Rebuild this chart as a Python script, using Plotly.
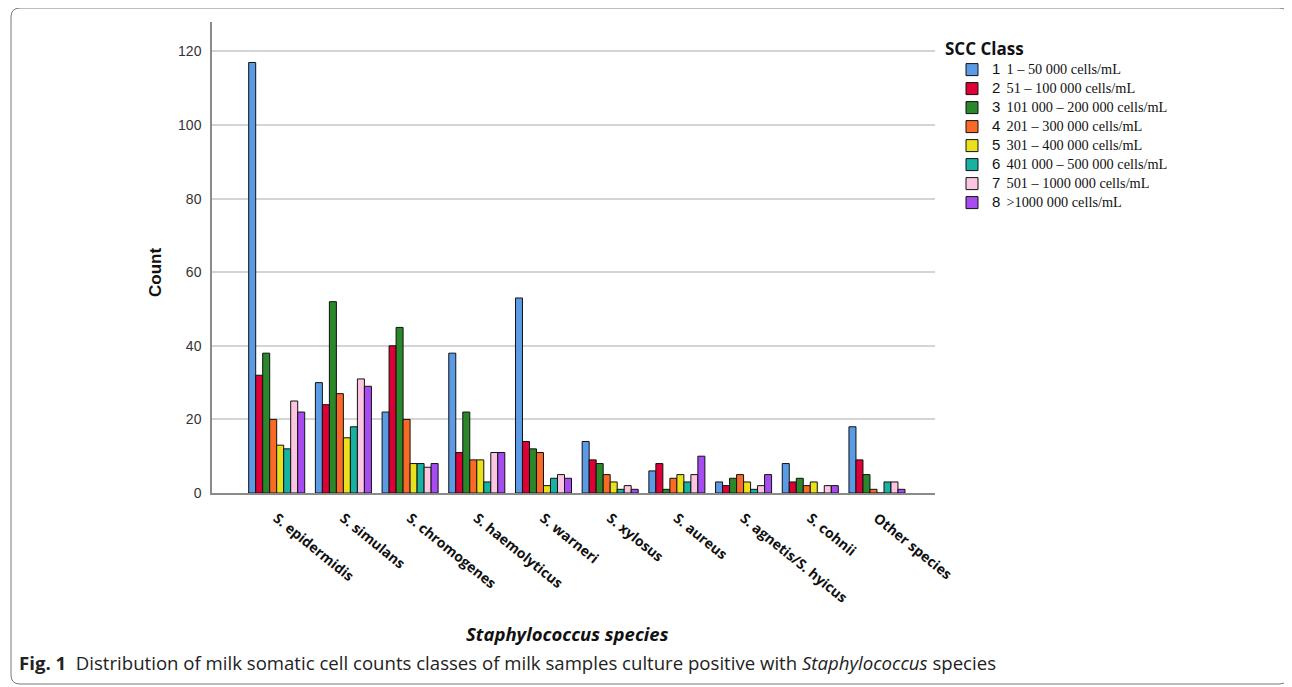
import plotly.graph_objects as go

species = ["S. epidermidis", "S. simulans", "S. chromogenes", "S. haemolyticus", "S. warneri",
           "S. xylosus", "S. aureus", "S. agnetis/S. hyicus", "S. cohnii", "Other species"]

class_ids = ["1", "2", "3", "4", "5", "6", "7", "8"]
class_labels = ["1 – 50 000 cells/mL", "51 – 100 000 cells/mL", "101 000 – 200 000 cells/mL",
                "201 – 300 000 cells/mL", "301 – 400 000 cells/mL", "401 000 – 500 000 cells/mL",
                "501 – 1000 000 cells/mL", ">1000 000 cells/mL"]

class1 = [117, 30, 22, 38, 53, 14, 6, 3, 8, 18]
class2 = [32, 24, 40, 11, 14, 9, 8, 2, 3, 9]
class3 = [38, 52, 45, 22, 12, 8, 1, 4, 4, 5]
class4 = [20, 27, 20, 9, 11, 5, 4, 5, 2, 1]
class5 = [13, 15, 8, 9, 2, 3, 5, 3, 3, 0]
class6 = [12, 18, 8, 3, 4, 1, 3, 1, 0, 3]
class7 = [25, 31, 7, 11, 5, 2, 5, 2, 2, 3]
class8 = [22, 29, 8, 11, 4, 1, 10, 5, 2, 1]

colors = ["#5b9be6", "#dc0036", "#2a872a", "#f86a26", "#ebe01c", "#17b2a2", "#fcc6e2", "#a64cf0"]

series = [class1, class2, class3, class4, class5, class6, class7, class8]

# page offset (default body margin of the html page)
OFF = 8
W, H = 1292 - OFF, 687 - OFF
# plot area in page pixels
L, R, T, B = 212, 935, 22, 493

fig = go.Figure()
for cid, lab, vals, col in zip(class_ids, class_labels, series, colors):
    fig.add_trace(go.Bar(
        x=species, y=vals,
        name=(f'<span style="font-family:Liberation Sans;font-size:15px">{cid}</span>'
              f'&nbsp;&nbsp;<span style="font-family:Liberation Serif;font-size:14.3px">{lab}</span>'),
        marker=dict(color=col, line=dict(color="#111111", width=1)),
    ))


def px(x):
    return (x - L) / (R - L)


def py(y):
    return (B - y) / (B - T)


# rounded figure frame
x0, y0, x1, y1, r = 11, 8, 1288, 684, 9
path = (f"M {px(x0 + r)},{py(y0)} L {px(x1 - r)},{py(y0)} Q {px(x1)},{py(y0)} {px(x1)},{py(y0 + r)} "
        f"L {px(x1)},{py(y1 - r)} Q {px(x1)},{py(y1)} {px(x1 - r)},{py(y1)} "
        f"L {px(x0 + r)},{py(y1)} Q {px(x0)},{py(y1)} {px(x0)},{py(y1 - r)} "
        f"L {px(x0)},{py(y0 + r)} Q {px(x0)},{py(y0)} {px(x0 + r)},{py(y0)} Z")

fig.update_layout(
    width=W, height=H,
    margin=dict(l=L - OFF, r=W - (R - OFF), t=T - OFF, b=H - (B - OFF), autoexpand=False),
    paper_bgcolor="white", plot_bgcolor="white",
    barmode="group", bargap=0.16, bargroupgap=0,
    showlegend=True,
    legend=dict(
        x=px(943), y=py(33), xanchor="left", yanchor="top",
        title=dict(text="<b>SCC Class</b>", font=dict(family="Open Sans", size=17, color="#111")),
        font=dict(family="Liberation Serif", size=12.3, color="#111"),
        tracegroupgap=0, itemwidth=30, bgcolor="rgba(0,0,0,0)",
        indentation=9,
    ),
    xaxis=dict(
        type="category", range=[-0.97, 9.87],
        showline=True, linecolor="#8a8a8a", linewidth=1.5,
        showgrid=False, tickangle=39,
        ticks="outside", ticklen=10, tickcolor="rgba(0,0,0,0)",
        tickfont=dict(family="Open Sans", size=14, color="#111", weight="bold"),
    ),
    yaxis=dict(
        range=[0, 128], dtick=20, tick0=0,
        showline=True, linecolor="#8a8a8a", linewidth=1.5,
        showgrid=True, gridcolor="#d4d4d4", gridwidth=1.5,
        zeroline=False,
        ticks="outside", ticklen=6, tickcolor="rgba(0,0,0,0)",
        tickfont=dict(family="Liberation Sans", size=14, color="#333"),
    ),
    shapes=[dict(type="path", xref="paper", yref="paper", path=path,
                 line=dict(color="#7a7a7a", width=1), fillcolor="rgba(0,0,0,0)", layer="below")],
    annotations=[
        dict(text="Count", xref="paper", yref="paper", x=px(155), y=py(273), textangle=-90,
             showarrow=False, xanchor="center", yanchor="middle",
             font=dict(family="Liberation Sans", size=17, color="#111", weight="bold")),
        dict(text="<b><i>Staphylococcus species</i></b>", xref="paper", yref="paper",
             x=px(567), y=py(633), showarrow=False, xanchor="center", yanchor="middle",
             font=dict(family="Open Sans", size=18.5, color="#111")),
        dict(text="<b>Fig. 1</b>&nbsp;&nbsp;Distribution of milk somatic cell counts classes of milk samples "
                  "culture positive with <i>Staphylococcus</i> species",
             xref="paper", yref="paper", x=px(17), y=py(662), showarrow=False,
             xanchor="left", yanchor="middle",
             font=dict(family="Open Sans", size=18.6, color="#222")),
    ],
)

fig.write_html("out.html")
